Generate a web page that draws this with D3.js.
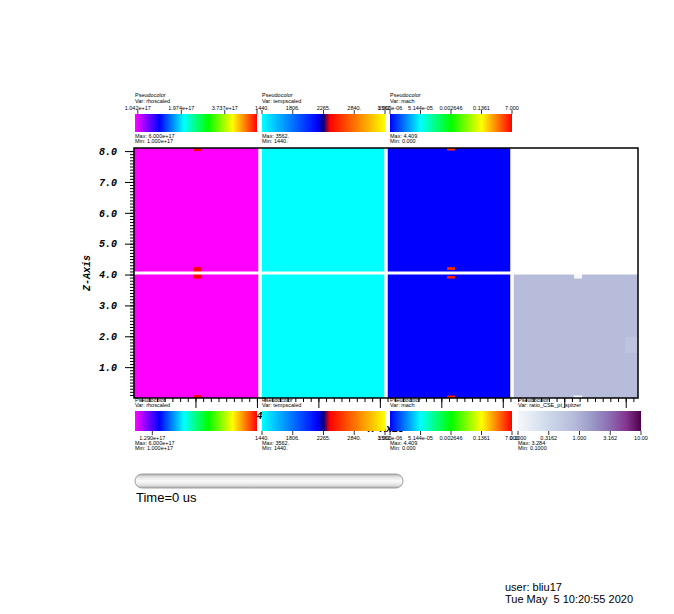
<!DOCTYPE html>
<html><head><meta charset="utf-8">
<script src="https://cdn.jsdelivr.net/npm/d3@7"></script>
<style>body{margin:0;background:#fff}svg{display:block}</style>
</head><body>
<svg id="c" width="674" height="614"></svg>
<script>
// ---------------- data ----------------
const varNames = ["rhoscaled", "tempscaled", "mach", "ratio_CSE_pt_spitzer"];
const varMin = [1e17, 1440, 1e-6, 0.1];
const varMax = [6e17, 3562, 7.0, 10.0];
const maxLabels = ["6.000e+17", "3562.", "4.409", "3.284"];
const minLabels = ["1.000e+17", "1440.", "0.000", "0.1000"];
const topTickValues = [
  [1.042e17, 1.974e17, 3.737e17, 6e17],
  [1440, 1806, 2265, 2840, 3562],
  [1e-6, 5.144e-5, 0.002646, 0.1361, 7.0]
];
const topTickLabels = [
  ["1.042e+17", "1.974e+17", "3.737e+17", ""],
  ["1440.", "1806.", "2265.", "2840.", "3562."],
  ["1.000e-06", "5.144e-05", "0.002646", "0.1361", "7.000"]
];
const bottomTickValues = [
  [1.29e17],
  [1440, 1806, 2265, 2840, 3562],
  [1e-6, 5.144e-5, 0.002646, 0.1361, 7.0],
  [0.1, 0.3162, 1.0, 3.162, 10.0]
];
const bottomTickLabels = [
  ["1.290e+17"],
  ["1440.", "1806.", "2265.", "2840.", "3562."],
  ["1.000e-06", "5.144e-05", "0.002646", "0.1361", "7.000"],
  ["0.1000", "0.3162", "1.000", "3.162", "10.00"]
];
// block values: one per column, lower row (z 0..4.05) and upper row (z 4.05..8.1)
const blockLower = [1e17, 1440, 0, 0.79];
const blockUpper = [1e17, 1440, 0, null];
// small patches of cells: column, x range, z range, value
const spotCol = [0, 0, 0, 2, 2, 2, 2, 3, 3, 3];
const spotX0 = [1.92, 1.92, 1.92, 10.19, 10.19, 10.19, 10.19, 14.32, 14.30, 15.98];
const spotX1 = [2.18, 2.18, 2.18, 10.45, 10.45, 10.45, 10.45, 14.58, 14.58, 16.4];
const spotZ0 = [8.0, 3.87, 0.0, 8.02, 4.15, 3.87, 0.0, 3.87, 0.0, 1.46];
const spotZ1 = [8.1, 4.24, 0.09, 8.1, 4.24, 3.95, 0.08, 4.05, 0.08, 1.98];
const spotVal = [6e17, 6e17, 6e17, 3.2, 3.6, 4.0, 4.409, 0.1, 0.1, 0.62];
const xMajor = [2, 4, 6, 8, 10, 12, 14, 16];
const xMajorLabels = ["2", "4", "6", "8", "10", "12", "14", "16"];
const zMajor = [1, 2, 3, 4, 5, 6, 7, 8];
const zMajorLabels = ["1.0", "2.0", "3.0", "4.0", "5.0", "6.0", "7.0", "8.0"];
const blockW = 4.1, blockH = 4.05;

// ---------------- colour tables ----------------
const tables = [
  { pos: [0, .2, .4, .6, .8, 1], col: ["#ff00ff", "#0000ff", "#00ffff", "#00ff00", "#ffff00", "#ff0000"] },
  { pos: [0, .45, .5, .55, 1], col: ["#00ffff", "#0000ff", "#000080", "#ff0000", "#ffff00"] },
  { pos: [0, .25, .5, .75, 1], col: ["#0000ff", "#00ffff", "#00ff00", "#ffff00", "#ff0000"] },
  { pos: [0, .25, .45, .6, .75, .88, 1], col: ["#f5f8fb", "#cdd8ea", "#b8bcdb", "#9a9ac8", "#8c6bb1", "#84358f", "#4d004b"] }
];
const cmap = tables.map(t => d3.scaleLinear().domain(t.pos).range(t.col).interpolate(d3.interpolateRgb).clamp(true));
const norm = varMin.map((m, i) => d3.scaleLog().domain([m, varMax[i]]).range([0, 1]).clamp(true));
function colorOf(i, v) { return cmap[i](norm[i](Math.max(v, varMin[i]))); }

// ---------------- drawing ----------------
const svg = d3.select("#c");
const defs = svg.append("defs");
const X0 = 134, X1 = 638, Y0 = 148, Y1 = 398;
const x = d3.scaleLinear().domain([0, 4 * blockW]).range([X0, X1]);
const z = d3.scaleLinear().domain([0, 2 * blockH]).range([Y1, Y0]);

const plot = svg.append("g");
const blocks = [];
varNames.forEach((n, i) => {
  blocks.push({ i, z0: 0, z1: blockH, v: blockLower[i] });
  blocks.push({ i, z0: blockH, z1: 2 * blockH, v: blockUpper[i] });
});
plot.selectAll("rect.block").data(blocks.filter(b => b.v !== null)).join("rect")
  .attr("class", "block")
  .attr("x", d => x(d.i * blockW)).attr("width", d => x((d.i + 1) * blockW) - x(d.i * blockW))
  .attr("y", d => z(d.z1)).attr("height", d => z(d.z0) - z(d.z1))
  .attr("fill", d => colorOf(d.i, d.v));
const spots = spotCol.map((c, k) => ({ c, x0: spotX0[k], x1: spotX1[k], z0: spotZ0[k], z1: spotZ1[k], v: spotVal[k] }));
plot.selectAll("rect.spot").data(spots).join("rect")
  .attr("class", "spot")
  .attr("x", d => x(d.x0)).attr("width", d => x(d.x1) - x(d.x0))
  .attr("y", d => z(d.z1)).attr("height", d => z(d.z0) - z(d.z1))
  .attr("fill", d => colorOf(d.c, d.v));
// white seams between domains
[1, 2, 3].forEach(k => plot.append("line").attr("x1", x(k * blockW)).attr("x2", x(k * blockW))
  .attr("y1", Y0).attr("y2", Y1).attr("stroke", "#fff").attr("stroke-width", 3.5));
plot.append("line").attr("x1", X0).attr("x2", X1).attr("y1", z(blockH)).attr("y2", z(blockH))
  .attr("stroke", "#fff").attr("stroke-width", 3);

// axes
const axFont = "'Liberation Mono','DejaVu Sans Mono',monospace";
const zMinor = d3.range(1, 81).map(k => k / 10);
const gz = svg.append("g").attr("transform", `translate(${X0},0)`);
gz.append("g").call(d3.axisLeft(z).tickValues(zMinor).tickSize(4).tickFormat(""))
  .call(g => g.select(".domain").remove());
gz.append("g").call(d3.axisLeft(z).tickValues(zMajor).tickSize(9).tickPadding(8)
  .tickFormat((d, k) => zMajorLabels[k]))
  .call(g => g.select(".domain").remove())
  .selectAll("text").attr("font-family", axFont).attr("font-weight", "bold").attr("font-style", "italic")
  .attr("font-size", 10).attr("fill", "#000");
const xMinor = d3.range(1, 66).map(k => k * 0.25);
const gx = svg.append("g").attr("transform", `translate(0,${Y1})`);
gx.append("g").call(d3.axisBottom(x).tickValues(xMinor).tickSize(4).tickFormat(""))
  .call(g => g.select(".domain").remove());
gx.append("g").call(d3.axisBottom(x).tickValues(xMajor).tickSize(10).tickPadding(4)
  .tickFormat((d, k) => xMajorLabels[k]))
  .call(g => g.select(".domain").remove())
  .selectAll("text").attr("font-family", axFont).attr("font-weight", "bold").attr("font-style", "italic")
  .attr("font-size", 10).attr("fill", "#000").attr("dx", 2);
svg.selectAll(".tick line").attr("stroke", "#000");
svg.append("rect").attr("x", X0).attr("y", Y0).attr("width", X1 - X0).attr("height", Y1 - Y0)
  .attr("fill", "none").attr("stroke", "#000").attr("stroke-width", 1.5);
svg.append("text").attr("transform", `translate(90,${(Y0 + Y1) / 2}) rotate(-90)`)
  .attr("text-anchor", "middle").attr("font-family", axFont).attr("font-weight", "bold")
  .attr("font-style", "italic").attr("font-size", 10).text("Z-Axis");
svg.append("text").attr("x", (X0 + X1) / 2).attr("y", 432)
  .attr("text-anchor", "middle").attr("font-family", axFont).attr("font-weight", "bold")
  .attr("font-style", "italic").attr("font-size", 10).text("X-Axis");

// legends
const lf = "'Liberation Sans',Arial,sans-serif";
function gradient(i) {
  const id = "grad" + i;
  if (!defs.select("#" + id).empty()) return id;
  const lg = defs.append("linearGradient").attr("id", id).attr("x1", 0).attr("x2", 1).attr("y1", 0).attr("y2", 0);
  tables[i].pos.forEach((p, k) => lg.append("stop").attr("offset", p).attr("stop-color", tables[i].col[k]));
  return id;
}
function legend(i, lx, lw, titleY, barY, barH, above, tv, tl) {
  const g = svg.append("g");
  const txt = (tx, ty, s, anchor) => g.append("text").attr("x", tx).attr("y", ty).attr("font-family", lf)
    .attr("font-size", 5.5).attr("fill", "#000").attr("text-anchor", anchor || "start").text(s);
  txt(lx, titleY, "Pseudocolor");
  txt(lx, titleY + 5.5, "Var: " + varNames[i]);
  g.append("rect").attr("x", lx).attr("y", barY).attr("width", lw).attr("height", barH)
    .attr("fill", `url(#${gradient(i)})`);
  const s = d3.scaleLog().domain([varMin[i], varMax[i]]).range([lx, lx + lw]);
  tv.forEach((v, k) => {
    const px = s(v);
    if (above) {
      g.append("line").attr("x1", px).attr("x2", px).attr("y1", barY - 4).attr("y2", barY).attr("stroke", "#000").attr("stroke-width", 0.8);
      txt(px, barY - 4.5, tl[k], "middle");
    } else {
      g.append("line").attr("x1", px).attr("x2", px).attr("y1", barY + barH).attr("y2", barY + barH + 4).attr("stroke", "#000").attr("stroke-width", 0.8);
      txt(px, barY + barH + 9, tl[k], "middle");
    }
  });
  const my = above ? barY + barH + 6 : barY + barH + 13.5;
  txt(lx, my, "Max: " + maxLabels[i]);
  txt(lx, my + 5, "Min: " + minLabels[i]);
}
const topX = [135, 262, 390];
const botX = [135, 262, 390, 518];
const barW = [122, 123, 122, 123];
[0, 1, 2].forEach(i => legend(i, topX[i], barW[i], 97, 114, 18, true, topTickValues[i], topTickLabels[i]));
[0, 1, 2, 3].forEach(i => legend(i, botX[i], barW[i], 401.5, 411, 20, false, bottomTickValues[i], bottomTickLabels[i]));

// time slider
const sg = defs.append("linearGradient").attr("id", "slider").attr("x1", 0).attr("x2", 0).attr("y1", 0).attr("y2", 1);
[[0, "#a8a8a8"], [0.2, "#e2e2e2"], [0.5, "#fbfbfb"], [0.8, "#e2e2e2"], [1, "#a8a8a8"]]
  .forEach(s => sg.append("stop").attr("offset", s[0]).attr("stop-color", s[1]));
svg.append("rect").attr("x", 135).attr("y", 474).attr("width", 268).attr("height", 14).attr("rx", 7)
  .attr("fill", "url(#slider)").attr("stroke", "#a0a0a0").attr("stroke-width", 1);
svg.append("text").attr("x", 136).attr("y", 502).attr("font-family", lf).attr("font-size", 13).text("Time=0 us");
svg.append("text").attr("x", 505).attr("y", 591).attr("font-family", lf).attr("font-size", 11).text("user: bliu17");
svg.append("text").attr("x", 505).attr("y", 603).attr("font-family", lf).attr("font-size", 11)
  .attr("xml:space", "preserve").style("white-space", "pre").text("Tue May  5 10:20:55 2020");
</script>
</body></html>
